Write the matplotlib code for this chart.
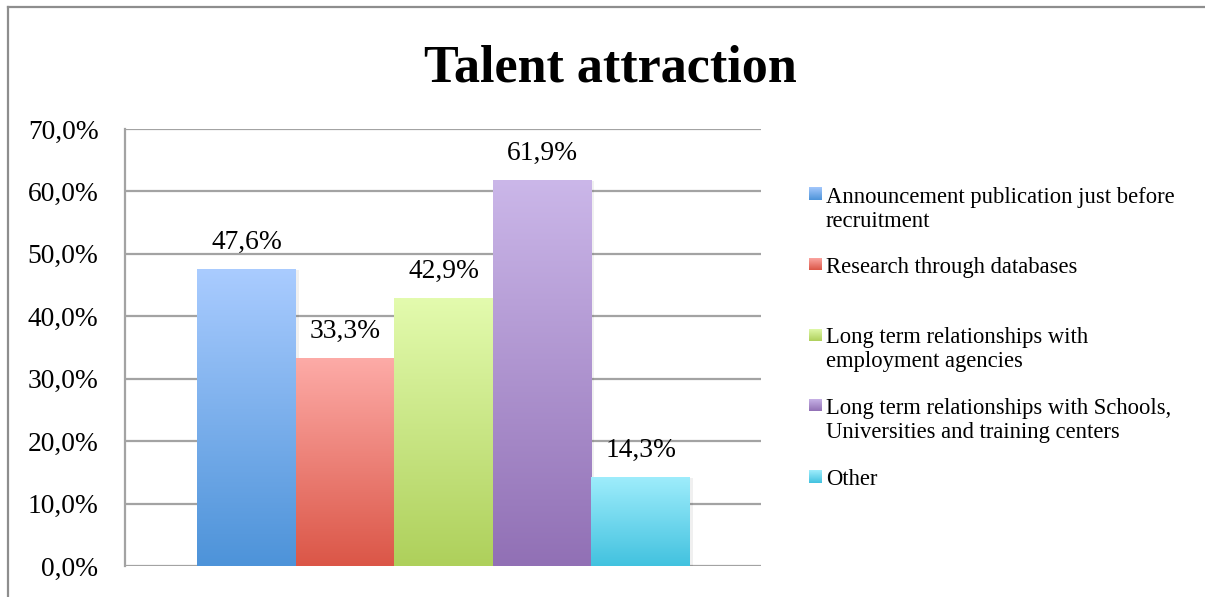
import numpy as np
import matplotlib
matplotlib.use("Agg")
import matplotlib.pyplot as plt
from matplotlib.colors import LinearSegmentedColormap
from matplotlib.lines import Line2D
import matplotlib.patheffects as pe

# data
series = [
    "Announcement publication just before\nrecruitment",
    "Research through databases",
    "Long term relationships with\nemployment agencies",
    "Long term relationships with Schools,\nUniversities and training centers",
    "Other",
]
values = [47.6, 33.3, 42.9, 61.9, 14.3]
# gradient colours: (top, bottom)
grad_colors = [
    ("#aaccff", "#4d93d9"),
    ("#fdaba7", "#db5647"),
    ("#e3fbae", "#aed05b"),
    ("#cbb7e9", "#9170b5"),
    ("#9fedfc", "#42c2df"),
]
y_ticks = [0, 10, 20, 30, 40, 50, 60, 70]

plt.rcParams["font.family"] = ["Liberation Serif", "DejaVu Serif"]

W, H = 1205, 597
fig = plt.figure(figsize=(W / 100, H / 100), dpi=100)

# outer chart frame (only top and left edges show)
frame_col = "#8e8e8e"
fig.add_artist(Line2D([8 / W, 8 / W], [0, 1 - 7 / H], color=frame_col, lw=1.6,
                      transform=fig.transFigure))
fig.add_artist(Line2D([8 / W, 1], [1 - 7 / H, 1 - 7 / H], color=frame_col, lw=1.6,
                      transform=fig.transFigure))

fig.text(610 / W, 1 - 82 / H, "Talent attraction", ha="center", va="baseline",
         fontsize=37.5, fontweight="bold")

ax = fig.add_axes([125 / W, 31 / H, 636 / W, 437 / H])
x = np.arange(len(values))

grid_col = "#a3a3a3"
for t in y_ticks:
    ax.axhline(t, color=grid_col, lw=1.6, zorder=1)
for s in ["top", "right", "bottom"]:
    ax.spines[s].set_visible(False)
ax.spines["left"].set_color(grid_col)
ax.spines["left"].set_linewidth(1.6)

ax.set_yticks(y_ticks)
ax.set_yticklabels([f"{t:.1f}%".replace(".", ",") for t in y_ticks], fontsize=19.8)
ax.tick_params(axis="y", length=0, pad=19)
ax.set_xticks([])

bars = ax.bar(x, values, width=1.0, color="none", zorder=2,
              path_effects=[pe.SimplePatchShadow(offset=(2, -1), shadow_rgbFace="#000000", alpha=0.06),
                            pe.Normal()])
grad = np.linspace(0, 1, 256).reshape(-1, 1)
for xi, v, bar, (top, bot) in zip(x, values, bars, grad_colors):
    cmap = LinearSegmentedColormap.from_list("g", [bot, top])
    im = ax.imshow(grad, cmap=cmap, origin="lower", aspect="auto",
                   extent=(xi - 0.5, xi + 0.5, 0, v), zorder=3, interpolation="bilinear")
    im.set_clip_path(bar)
    ax.annotate(f"{v:.1f}%".replace(".", ","), (xi, v), xytext=(0, 14.5),
                textcoords="offset points", ha="center", va="baseline", fontsize=19.8)
ax.set_xlim(-1.232, 5.22)
ax.set_ylim(0, 70)

# legend drawn by hand
entry_baselines = [203, 273, 343, 414, 485]
square_centers = [193, 264, 335, 405, 476]
line_gap = 24
for label, (top, bot), yb, yc in zip(series, grad_colors, entry_baselines, square_centers):
    sqax = fig.add_axes([809 / W, 1 - (yc + 6.5) / H, 13 / W, 13 / H])
    sqax.imshow(grad, cmap=LinearSegmentedColormap.from_list("g", [bot, top]),
                origin="lower", aspect="auto", extent=(0, 1, 0, 1))
    sqax.axis("off")
    for i, line in enumerate(label.split("\n")):
        fig.text(826 / W, 1 - (yb + i * line_gap) / H, line, ha="left", va="baseline",
                 fontsize=16.3)

fig.savefig("out.png", dpi=100)
